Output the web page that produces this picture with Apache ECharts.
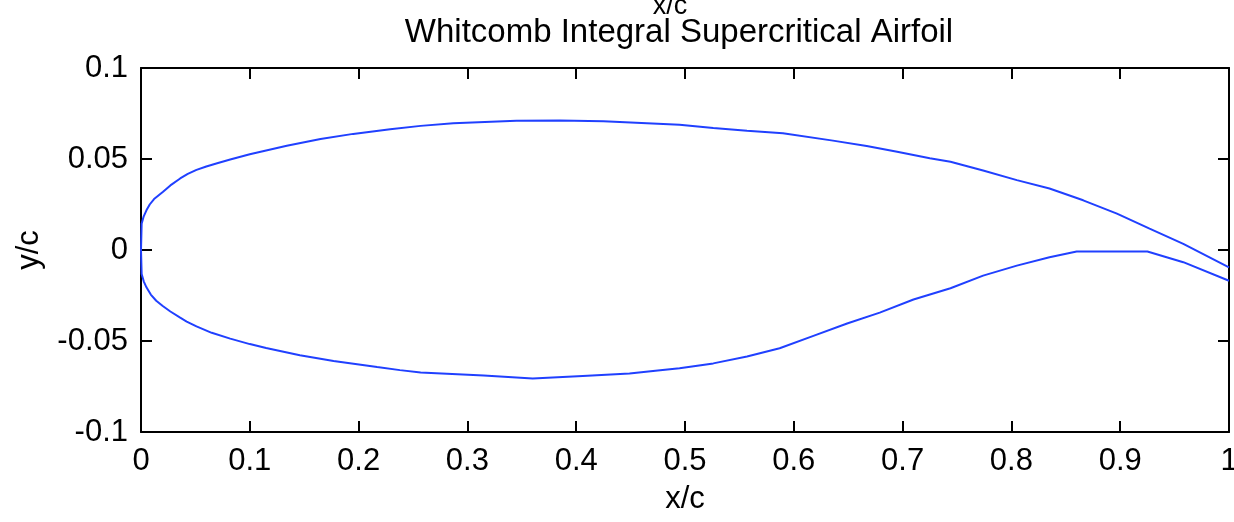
<!DOCTYPE html>
<html>
<head>
<meta charset="utf-8">
<script src="https://cdn.jsdelivr.net/npm/echarts@6/dist/echarts.min.js"></script>
<style>
  html, body { margin: 0; padding: 0; background: #fff; overflow: hidden; }
  #chart { width: 1234px; height: 522px; }
</style>
</head>
<body>
<div id="chart"></div>
<script>
// Whitcomb integral supercritical airfoil, normalised coordinates (x/c, y/c)
const upperX = [0, 0.0006, 0.0025, 0.005, 0.008, 0.012, 0.02, 0.027, 0.036, 0.043, 0.051, 0.06, 0.07, 0.082,
  0.1, 0.134, 0.165, 0.195, 0.229, 0.257, 0.287, 0.345, 0.385, 0.425, 0.46, 0.495, 0.526, 0.557, 0.59,
  0.636, 0.667, 0.695, 0.725, 0.744, 0.774, 0.805, 0.835, 0.866, 0.897, 0.927, 0.958, 1.0];
const upperY = [0, 0.0145, 0.0185, 0.0218, 0.0250, 0.0280, 0.0319, 0.0355, 0.0393, 0.0418, 0.0440, 0.0459, 0.0477, 0.0497,
  0.0526, 0.0573, 0.0610, 0.0638, 0.0663, 0.0682, 0.0697, 0.0710, 0.0712, 0.0708, 0.0698, 0.0688, 0.0670, 0.0655, 0.0642,
  0.0601, 0.0572, 0.0540, 0.0504, 0.0485, 0.0437, 0.0384, 0.0338, 0.0273, 0.0200, 0.0117, 0.0034, -0.0095];

const lowerX = [0, 0.0006, 0.0025, 0.005, 0.009, 0.014, 0.02, 0.027, 0.036, 0.042, 0.051, 0.065, 0.082, 0.1,
  0.115, 0.146, 0.177, 0.217, 0.238, 0.257, 0.315, 0.36, 0.406, 0.449, 0.475, 0.495, 0.526, 0.557, 0.587,
  0.618, 0.649, 0.679, 0.71, 0.744, 0.774, 0.805, 0.835, 0.86, 0.925, 0.958, 1.0];
const lowerY = [0, -0.0132, -0.0172, -0.0205, -0.0245, -0.0279, -0.0308, -0.0338, -0.0372, -0.0393, -0.0420, -0.0455, -0.0487, -0.0517,
  -0.0538, -0.0578, -0.0610, -0.0643, -0.0660, -0.0673, -0.0690, -0.0706, -0.0692, -0.0679, -0.0662, -0.0650, -0.0623, -0.0585, -0.0540,
  -0.0472, -0.0404, -0.0344, -0.0272, -0.0210, -0.0141, -0.0086, -0.0040, -0.0008, -0.0008, -0.0067, -0.0169];

// Axis tick labels
const xTickLabels = ['0', '0.1', '0.2', '0.3', '0.4', '0.5', '0.6', '0.7', '0.8', '0.9', '1'];
const yTickLabels = ['-0.1', '-0.05', '0', '0.05', '0.1'];

const titleText = 'Whitcomb Integral Supercritical Airfoil';
const xName = 'x/c';
const yName = 'y/c';

const FONT = "'Liberation Sans', Arial, Helvetica, sans-serif";
const LINE_COLOR = '#2040ff';

function zip(xs, ys) { return xs.map((x, i) => [x, ys[i]]); }

const frameAxis = {
  axisLine: { show: true, onZero: false, lineStyle: { color: '#000', width: 2 } },
  axisTick: { show: true, inside: true, length: 11, lineStyle: { color: '#000', width: 2 } },
  splitLine: { show: false }
};

const chart = echarts.init(document.getElementById('chart'), null, { renderer: 'canvas' });
chart.setOption({
  animation: false,
  backgroundColor: '#fff',
  grid: { left: 141, right: 5, top: 68, bottom: 90, containLabel: false, outerBoundsMode: 'none' },
  xAxis: [
    Object.assign({
      type: 'value', min: 0, max: 1, interval: 0.1, position: 'bottom',
      name: xName, nameLocation: 'middle', nameGap: 52,
      nameTextStyle: { color: '#000', fontSize: 31, fontFamily: FONT },
      axisLabel: {
        color: '#000', fontSize: 31, fontFamily: FONT, margin: 14,
        formatter: v => xTickLabels[Math.round(v / 0.1)]
      }
    }, frameAxis),
    Object.assign({
      type: 'value', min: 0, max: 1, interval: 0.1, position: 'top',
      axisLabel: { show: false }
    }, frameAxis)
  ],
  yAxis: [
    Object.assign({
      type: 'value', min: -0.1, max: 0.1, interval: 0.05, position: 'left',
      name: yName, nameLocation: 'middle', nameGap: 96, nameRotate: 90,
      nameTextStyle: { color: '#000', fontSize: 31, fontFamily: FONT },
      axisLabel: {
        color: '#000', fontSize: 31, fontFamily: FONT, margin: 13,
        formatter: v => yTickLabels[Math.round((v + 0.1) / 0.05)]
      }
    }, frameAxis),
    Object.assign({
      type: 'value', min: -0.1, max: 0.1, interval: 0.05, position: 'right',
      axisLabel: { show: false }
    }, frameAxis)
  ],
  graphic: [
    {
      type: 'text', x: 679, y: 33,
      style: { text: titleText, font: '33px ' + FONT, fill: '#000', textAlign: 'center', textVerticalAlign: 'middle' }
    },
    {
      type: 'text', x: 670, y: 7,
      style: { text: xName, font: '27px ' + FONT, fill: '#000', textAlign: 'center', textVerticalAlign: 'middle' }
    }
  ],
  series: [
    {
      type: 'line', name: 'upper', data: zip(upperX, upperY), xAxisIndex: 0, yAxisIndex: 0,
      showSymbol: false, smooth: false, lineStyle: { color: LINE_COLOR, width: 2 }
    },
    {
      type: 'line', name: 'lower', data: zip(lowerX, lowerY), xAxisIndex: 0, yAxisIndex: 0,
      showSymbol: false, smooth: false, lineStyle: { color: LINE_COLOR, width: 2 }
    }
  ]
});
</script>
</body>
</html>
